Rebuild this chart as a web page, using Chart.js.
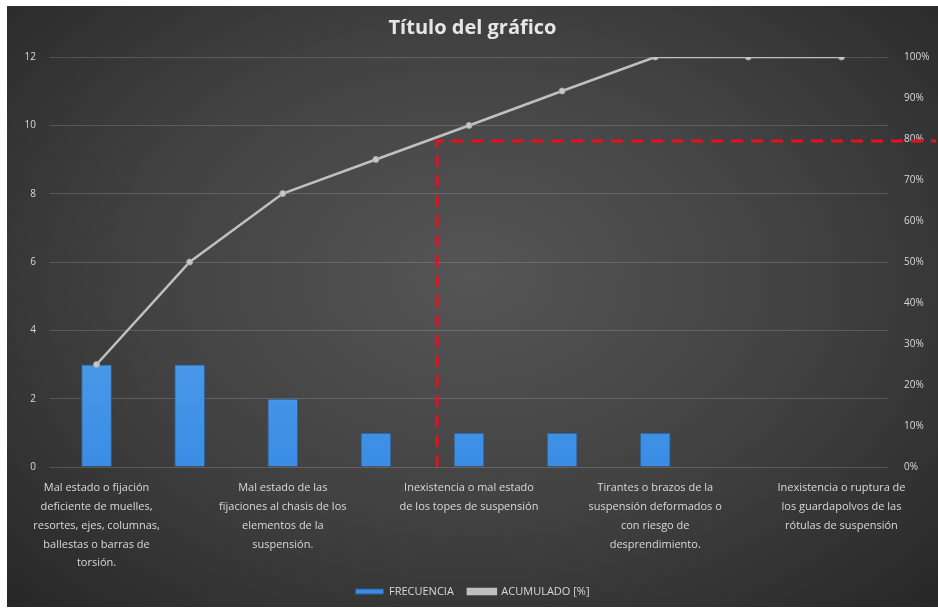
<!DOCTYPE html>
<html>
<head>
<meta charset="utf-8">
<script src="https://cdn.jsdelivr.net/npm/chart.js@4"></script>
<style>
  html, body { margin: 0; padding: 0; background: #fff; }
  #panel {
    position: absolute; left: 7px; top: 6px; width: 931px; height: 601px;
    background: radial-gradient(ellipse at 50% 45%, #555555 0%, #424242 50%, #272727 100%);
  }
  #chart { display: block; }
</style>
</head>
<body>
<div id="panel"><canvas id="chart" width="931" height="601"></canvas></div>
<script>
// datos del diagrama de pareto
const categorias = [
  ["Mal estado o fijación", "deficiente de muelles,", "resortes, ejes, columnas,", "ballestas o barras de", "torsión."],
  ["Amortiguadores con fugas", "o en mal estado"],
  ["Mal estado de las", "fijaciones al chasis de los", "elementos de la", "suspensión."],
  ["Holgura excesiva en", "rótulas o articulaciones"],
  ["Inexistencia o mal estado", "de los topes de suspensión"],
  ["Bujes o silentblocks", "deteriorados"],
  ["Tirantes o brazos de la", "suspensión deformados o", "con riesgo de", "desprendimiento."],
  ["Barra estabilizadora", "en mal estado"],
  ["Inexistencia o ruptura de", "los guardapolvos de las", "rótulas de suspensión"]
]
const frecuencia = [3, 3, 2, 1, 1, 1, 1, 0, 0]
const acumulado = [25, 50, 66.7, 75, 83.3, 91.7, 100, 100, 100]
const ticksIzq = [0, 2, 4, 6, 8, 10, 12]
const limitePareto = 80

const textColor = '#d9d9d9'
const fuente = "'Open Sans', 'Liberation Sans', sans-serif"

// lineas rojas discontinuas del 80%
const lineaPareto = {
  id: 'lineaPareto',
  afterDatasetsDraw(chart) {
    const ctx = chart.ctx
    const x = chart.scales.x
    const y1 = chart.scales.y1
    let idx = 0
    for (let i = 1; i < acumulado.length; i++) {
      if (acumulado[i] >= limitePareto) {
        const t = (limitePareto - acumulado[i-1]) / (acumulado[i] - acumulado[i-1])
        idx = i - 1 + t
        break
      }
    }
    const px = x.getPixelForValue(idx) + 5
    const py = y1.getPixelForValue(limitePareto) + 2
    ctx.save()
    ctx.strokeStyle = '#e8101f'
    ctx.lineWidth = 3
    ctx.setLineDash([12, 8])
    ctx.beginPath()
    ctx.moveTo(px, chart.chartArea.bottom)
    ctx.lineTo(px, py)
    ctx.lineTo(chart.width - 2, py)
    ctx.stroke()
    ctx.restore()
  }
}

function gradienteBarra(context) {
  const area = context.chart.chartArea
  if (!area) return '#4f9ded'
  const g = context.chart.ctx.createLinearGradient(0, area.top, 0, area.bottom)
  g.addColorStop(0, '#74b8f5')
  g.addColorStop(1, '#3a8de4')
  return g
}

const ctx = document.getElementById('chart').getContext('2d')
const chart = new Chart(ctx, {
  data: {
    labels: categorias,
    datasets: [
      {
        type: 'line',
        label: 'ACUMULADO [%]',
        data: acumulado,
        yAxisID: 'y1',
        borderColor: '#c0c0c0',
        backgroundColor: '#c0c0c0',
        borderWidth: 2.5,
        pointRadius: 3,
        pointBackgroundColor: '#c8c8c8',
        pointBorderColor: '#a8a8a8',
        pointBorderWidth: 1,
        tension: 0,
        order: 0
      },
      {
        type: 'bar',
        label: 'FRECUENCIA',
        data: frecuencia,
        yAxisID: 'y',
        backgroundColor: gradienteBarra,
        borderColor: '#2b5f99',
        borderWidth: 1,
        categoryPercentage: 1,
        barPercentage: 0.33,
        order: 1
      }
    ]
  },
  options: {
    responsive: false,
    animation: false,
    layout: { padding: { left: 0, right: 0, top: 0, bottom: 0 } },
    plugins: {
      title: {
        display: true,
        text: 'Título del gráfico',
        color: '#e6e6e6',
        font: { family: fuente, size: 20, weight: 'bold' },
        padding: { top: 10, bottom: 17 }
      },
      legend: {
        position: 'bottom',
        reverse: true,
        labels: {
          color: textColor,
          font: { family: fuente, size: 11 },
          boxWidth: 28,
          boxHeight: 5,
          padding: 14
        }
      },
      tooltip: { enabled: false }
    },
    scales: {
      x: {
        grid: { display: false, drawTicks: false },
        border: { display: false },
        ticks: {
          color: textColor,
          font: { family: fuente, size: 11, lineHeight: 1.7 },
          maxRotation: 0,
          autoSkip: false,
          padding: 12,
          callback: function(val, i) { return i % 2 === 0 ? categorias[i] : '' }
        },
        afterFit: function(s) { s.height = 105 }
      },
      y: {
        position: 'left',
        min: 0, max: 12,
        afterBuildTicks: function(s) { s.ticks = ticksIzq.map(v => ({ value: v })) },
        grid: { color: 'rgba(255,255,255,0.16)', drawTicks: false },
        border: { display: false },
        ticks: {
          color: textColor,
          font: { family: fuente, size: 10 },
          padding: 14
        },
        afterFit: function(s) { s.width = 43 }
      },
      y1: {
        position: 'right',
        min: 0, max: 100,
        grid: { drawOnChartArea: false, drawTicks: false },
        border: { display: false },
        ticks: {
          stepSize: 10,
          color: textColor,
          font: { family: fuente, size: 10 },
          padding: 16,
          callback: function(v) { return v + '%' }
        },
        afterFit: function(s) { s.width = 50 }
      }
    }
  },
  plugins: [lineaPareto]
})
</script>
</body>
</html>
